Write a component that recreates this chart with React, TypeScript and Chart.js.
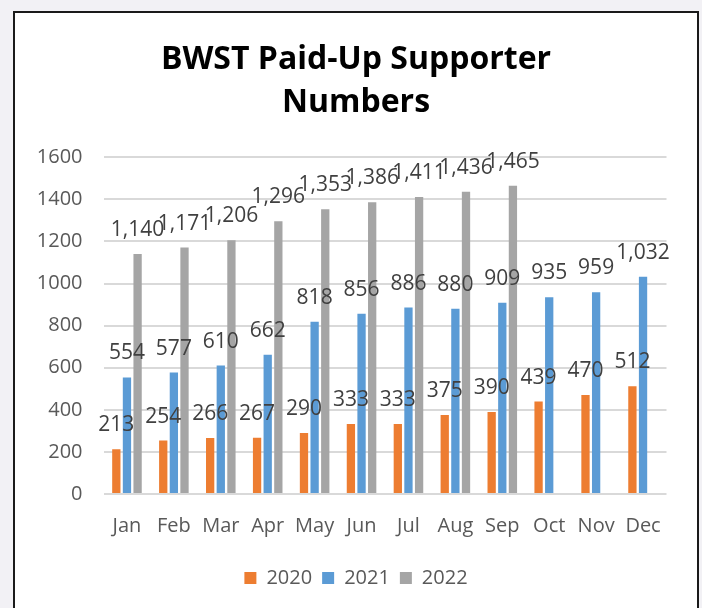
import React, { useEffect, useRef } from "react";
import { Chart, registerables } from "chart.js";

Chart.register(...registerables);

const months = ["Jan", "Feb", "Mar", "Apr", "May", "Jun", "Jul", "Aug", "Sep", "Oct", "Nov", "Dec"];
const values2020 = [213, 254, 266, 267, 290, 333, 333, 375, 390, 439, 470, 512];
const values2021 = [554, 577, 610, 662, 818, 856, 886, 880, 909, 935, 959, 1032];
const values2022 = [1140, 1171, 1206, 1296, 1353, 1386, 1411, 1436, 1465, null, null, null];
const seriesNames = ["2020", "2021", "2022"];
const seriesColors = ["#ed7d31", "#5b9bd5", "#a5a5a5"];
const yTicks = { min: 0, max: 1600, step: 200 };

const FONT = "'Open Sans', 'Lato', sans-serif";

const labelPlugin = {
  id: "barLabels",
  afterDatasetsDraw(chart: any) {
    const ctx = chart.ctx;
    ctx.save();
    ctx.font = `21px ${FONT}`;
    ctx.fillStyle = "#404040";
    ctx.textAlign = "center";
    ctx.textBaseline = "middle";
    chart.data.datasets.forEach((ds: any, di: number) => {
      const meta = chart.getDatasetMeta(di);
      meta.data.forEach((bar: any, i: number) => {
        const v = ds.data[i];
        if (v === null || v === undefined) return;
        ctx.fillText(v.toLocaleString("en-US"), bar.x, bar.y - 24);
      });
    });
    ctx.restore();
  },
};

export default function App() {
  const ref = useRef<HTMLCanvasElement>(null);
  useEffect(() => {
    const chart = new Chart(ref.current!, {
      type: "bar",
      data: {
        labels: months,
        datasets: [values2020, values2021, values2022].map((d, i) => ({
          label: seriesNames[i],
          data: d,
          backgroundColor: seriesColors[i],
          categoryPercentage: 0.68,
          barPercentage: 0.78,
        })),
      },
      options: {
        animation: false,
        responsive: false,
        maintainAspectRatio: false,
        layout: { padding: { left: 14, right: 4, top: 0, bottom: 10 } },
        plugins: {
          title: {
            display: true,
            text: ["BWST Paid-Up Supporter", "Numbers"],
            color: "#000000",
            font: { family: FONT, size: 32, weight: "bold", lineHeight: 1.34 },
            padding: { top: 38.5, bottom: 33 },
          },
          legend: {
            position: "bottom",
            labels: {
              boxWidth: 12,
              boxHeight: 12,
              color: "#595959",
              font: { family: FONT, size: 20 },
              padding: 10,
            },
          },
          tooltip: { enabled: false },
        },
        scales: {
          x: {
            grid: { display: false, drawTicks: false },
            border: { display: false },
            ticks: { color: "#595959", font: { family: FONT, size: 20 }, padding: 20 },
          },
          y: {
            min: yTicks.min,
            max: yTicks.max,
            ticks: {
              stepSize: yTicks.step,
              color: "#595959",
              font: { family: FONT, size: 20 },
              padding: 21,
              callback: (v: any) => String(v),
            },
            grid: { color: "#d9d9d9", lineWidth: 2, drawTicks: false },
            border: { display: false },
            afterFit(scale: any) {
              scale.width = 89.5;
            },
          },
          spacer: {
            type: "linear",
            position: "right",
            display: true,
            grid: { display: false, drawTicks: false },
            border: { display: false },
            ticks: { display: false },
            afterFit(scale: any) {
              scale.width = 31.5;
            },
          },
        },
      },
      plugins: [labelPlugin],
    });
    return () => chart.destroy();
  }, []);
  return (
    <div style={{ position: "absolute", left: 0, top: 0, width: 702, height: 608, background: "#f2f1f5", overflow: "hidden" }}>
      <div style={{ position: "absolute", left: 13, top: 11, width: 682, height: 620, background: "#fff", border: "2px solid #1a1a1a" }} />
      <canvas ref={ref} width={702} height={608} style={{ position: "absolute", left: 0, top: 0 }} />
    </div>
  );
}
